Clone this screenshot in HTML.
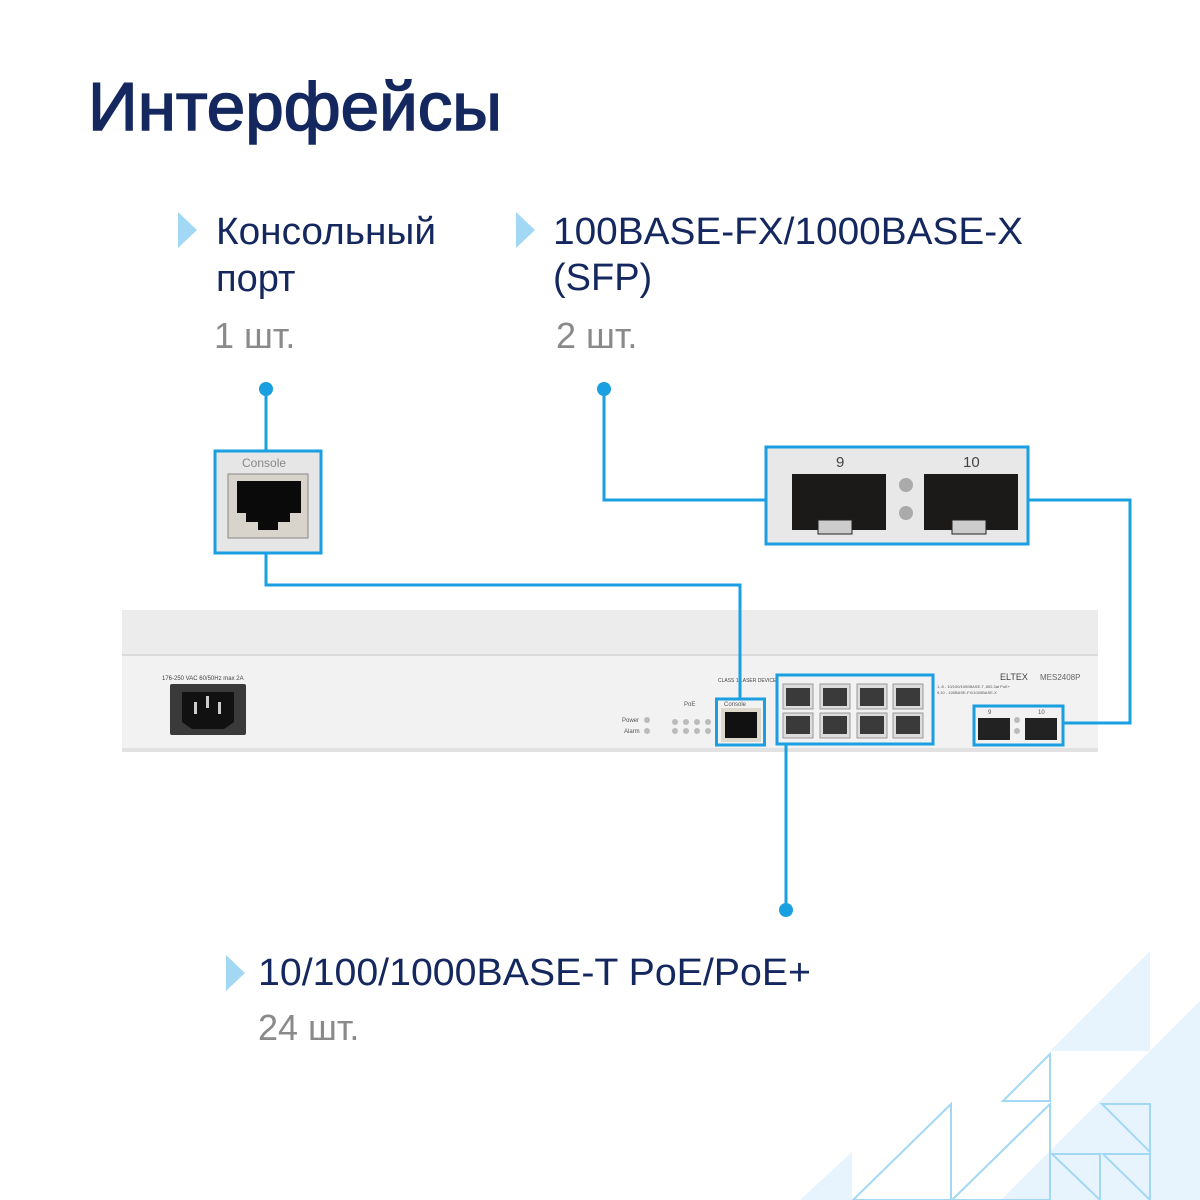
<!DOCTYPE html>
<html><head><meta charset="utf-8"><style>
html,body{margin:0;padding:0;background:#fff;}
svg{display:block;}
text{font-family:"Liberation Sans","DejaVu Sans",sans-serif;}
</style></head><body>
<svg width="1200" height="1200" viewBox="0 0 1200 1200" xmlns="http://www.w3.org/2000/svg">
<g fill="#e8f4fd">
<polygon points="1050,1051 1150,951 1150,1051"/>
<polygon points="1001,1200 1200,1001 1200,1200"/>
<polygon points="800,1200 852,1152 852,1200"/>
</g>
<g fill="none" stroke="#a3d8f4" stroke-width="2">
<polygon points="1003,1101 1050,1054 1050,1101"/>
<polygon points="853,1200 951,1104 951,1200"/>
<polygon points="952,1200 1050,1104 1050,1200"/>
<polygon points="1102,1104 1150,1104 1150,1152"/>
<polygon points="1052,1154 1100,1154 1100,1200"/>
<polygon points="1103,1154 1150,1154 1150,1200"/>
</g>

<text x="88" y="130" font-size="68" fill="#14285f" stroke="#14285f" stroke-width="1.6" textLength="414" lengthAdjust="spacingAndGlyphs">Интерфейсы</text>

<g fill="#a3d8f4">
<polygon points="178,212 197,230 178,248"/>
<polygon points="516,212 535,230 516,248"/>
<polygon points="226,955 245,973 226,991"/>
</g>
<g font-size="38" fill="#14285f">
<text x="216" y="244" textLength="220" lengthAdjust="spacingAndGlyphs">Консольный</text>
<text x="216" y="291">порт</text>
<text x="553" y="244" textLength="470" lengthAdjust="spacingAndGlyphs">100BASE-FX/1000BASE-X</text>
<text x="553" y="290">(SFP)</text>
<text x="258" y="985" textLength="553" lengthAdjust="spacingAndGlyphs">10/100/1000BASE-T PoE/PoE+</text>
</g>
<g font-size="36" fill="#8a8a8a">
<text x="214" y="348">1 шт.</text>
<text x="556" y="348">2 шт.</text>
<text x="258" y="1040">24 шт.</text>
</g>

<rect x="122" y="610" width="976" height="48" fill="#ececec"/>
<rect x="122" y="655" width="976" height="95" fill="#f2f2f2"/>
<rect x="122" y="748" width="976" height="4" fill="#e2e2e2"/>
<line x1="122" y1="655" x2="1098" y2="655" stroke="#dadada" stroke-width="2"/>
<text x="162" y="680" font-size="6" fill="#444">176-250 VAC 60/50Hz max 2A</text>
<rect x="170" y="684" width="76" height="51" rx="2" fill="#3a3a3a"/>
<polygon points="182,692 234,692 234,722 224,729 192,729 182,722" fill="#111"/>
<rect x="194" y="702" width="3" height="12" fill="#ccc"/><rect x="218" y="702" width="3" height="12" fill="#ccc"/><rect x="206" y="696" width="3" height="12" fill="#ccc"/>
<text x="622" y="722" font-size="6" fill="#555">Power</text>
<text x="624" y="733" font-size="6" fill="#555">Alarm</text>
<text x="684" y="706" font-size="6" fill="#555">PoE</text>
<g fill="#bbb">
<circle cx="647" cy="720" r="3"/><circle cx="647" cy="731" r="3"/>
<circle cx="675" cy="722" r="3"/><circle cx="686" cy="722" r="3"/><circle cx="697" cy="722" r="3"/><circle cx="708" cy="722" r="3"/>
<circle cx="675" cy="731" r="3"/><circle cx="686" cy="731" r="3"/><circle cx="697" cy="731" r="3"/><circle cx="708" cy="731" r="3"/>
</g>
<text x="724" y="706" font-size="6" fill="#555">Console</text>
<rect x="721" y="708" width="40" height="34" fill="#ddd8cc"/>
<rect x="725" y="712" width="32" height="26" fill="#111"/>
<text x="718" y="682" font-size="5" fill="#444">CLASS 1 LASER DEVICE</text>
<g fill="#dcdcdc" stroke="#999" stroke-width="1">
<rect x="783" y="684" width="30" height="25"/><rect x="820" y="684" width="30" height="25"/><rect x="857" y="684" width="30" height="25"/><rect x="893" y="684" width="30" height="25"/>
<rect x="783" y="713" width="30" height="25"/><rect x="820" y="713" width="30" height="25"/><rect x="857" y="713" width="30" height="25"/><rect x="893" y="713" width="30" height="25"/>
</g>
<g fill="#3a3a3a">
<rect x="786" y="688" width="24" height="18"/><rect x="823" y="688" width="24" height="18"/><rect x="860" y="688" width="24" height="18"/><rect x="896" y="688" width="24" height="18"/>
<rect x="786" y="716" width="24" height="18"/><rect x="823" y="716" width="24" height="18"/><rect x="860" y="716" width="24" height="18"/><rect x="896" y="716" width="24" height="18"/>
</g>
<text x="1000" y="680" font-size="9" fill="#444">ELTEX</text>
<text x="1040" y="680" font-size="8" fill="#666">MES2408P</text>
<text x="937" y="688" font-size="4" fill="#555">1..8 - 10/100/1000BASE-T, 802.3at PoE+</text>
<text x="937" y="694" font-size="4" fill="#555">9,10 - 100BASE-FX/1000BASE-X</text>
<rect x="978" y="718" width="32" height="22" fill="#222"/>
<rect x="1025" y="718" width="32" height="22" fill="#222"/>
<circle cx="1017" cy="720" r="3" fill="#bbb"/><circle cx="1017" cy="731" r="3" fill="#bbb"/>
<text x="988" y="714" font-size="6" fill="#555">9</text><text x="1038" y="714" font-size="6" fill="#555">10</text>

<rect x="215" y="451" width="106" height="102" fill="#e6e6e6"/>
<text x="242" y="467" font-size="12" fill="#888">Console</text>
<rect x="228" y="474" width="80" height="64" fill="#d8d4cc" stroke="#888" stroke-width="1"/>
<polygon points="237,481 301,481 301,513 290,513 290,522 278,522 278,530 258,530 258,522 246,522 246,513 237,513" fill="#0a0a0a"/>

<rect x="766" y="447" width="262" height="97" fill="#e8e8e8"/>
<text x="836" y="467" font-size="15" fill="#444">9</text>
<text x="963" y="467" font-size="15" fill="#444">10</text>
<rect x="792" y="474" width="94" height="56" fill="#1c1a18"/>
<rect x="924" y="474" width="94" height="56" fill="#1c1a18"/>
<rect x="818" y="520" width="34" height="14" fill="#ccc" stroke="#222"/>
<rect x="952" y="520" width="34" height="14" fill="#ccc" stroke="#222"/>
<circle cx="906" cy="485" r="7" fill="#aaa"/><circle cx="906" cy="513" r="7" fill="#aaa"/>

<g fill="none" stroke="#1a9fe0" stroke-width="3">
<rect x="215" y="451" width="106" height="102"/>
<rect x="766" y="447" width="262" height="97"/>
<rect x="716.5" y="699" width="48" height="46"/>
<rect x="777" y="675" width="156" height="69"/>
<rect x="974" y="706" width="89" height="39"/>
<polyline points="266,389 266,451"/>
<polyline points="266,553 266,585 740,585 740,699"/>
<polyline points="604,389 604,500 766,500"/>
<polyline points="1028,500 1130,500 1130,723 1063,723"/>
<polyline points="786,744 786,910"/>
</g>
<g fill="#1a9fe0">
<circle cx="266" cy="389" r="7"/>
<circle cx="604" cy="389" r="7"/>
<circle cx="786" cy="910" r="7"/>
</g>
</svg>
</body></html>
